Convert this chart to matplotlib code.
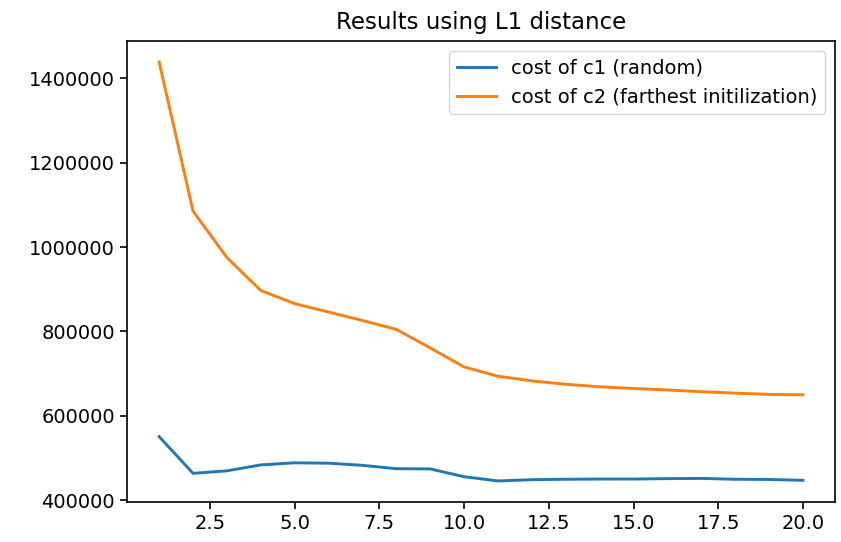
import matplotlib
matplotlib.use("Agg")
import matplotlib.pyplot as plt

# number of clusters k
k_values = list(range(1, 21))

# cost with random initialization (L1 distance)
cost_c1 = [551000, 464000, 470000, 484000, 489000, 488000, 483000, 475000, 474500, 456000,
           446000, 449000, 450000, 450500, 450500, 451500, 452000, 450000, 449500, 447500]

# cost with farthest initialization (L1 distance)
cost_c2 = [1438000, 1085000, 975000, 897000, 866000, 846000, 826000, 805000, 761000, 716000,
           694000, 683000, 675000, 669000, 665000, 661500, 657500, 654000, 651000, 650000]

fig = plt.figure(figsize=(8.41, 5.42), dpi=100)
ax = fig.add_axes([0.151, 0.074, 0.842, 0.850])

ax.plot(k_values, cost_c1, color="#1f77b4", linewidth=2.1, label="cost of c1 (random)")
ax.plot(k_values, cost_c2, color="#ff7f0e", linewidth=2.1, label="cost of c2 (farthest initilization)")

ax.set_title("Results using L1 distance", fontsize=16.5, pad=9)
ax.tick_params(labelsize=14, length=5, width=1.2)
for s in ax.spines.values():
    s.set_linewidth(1.2)
ax.ticklabel_format(axis="y", style="plain", useOffset=False)
ax.legend(loc="upper right", fontsize=14)

fig.savefig("out.png", dpi=100)
